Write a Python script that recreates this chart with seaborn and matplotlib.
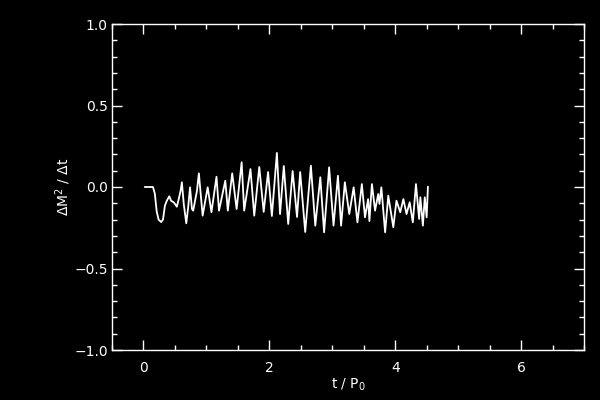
import numpy as np
import pandas as pd
import matplotlib
matplotlib.use("Agg")
import matplotlib.pyplot as plt
import seaborn as sns
from matplotlib.ticker import MultipleLocator, FuncFormatter

# time in units of P0
t = [0.02, 0.15, 0.18, 0.21, 0.24, 0.28, 0.31, 0.34, 0.37, 0.41,
     0.44, 0.48, 0.50, 0.53, 0.56, 0.59, 0.61, 0.64, 0.68, 0.71,
     0.74, 0.77, 0.79, 0.85, 0.88, 0.94, 1.02, 1.08, 1.16, 1.20,
     1.30, 1.34, 1.41, 1.48, 1.56, 1.60, 1.70, 1.76, 1.84, 1.91,
     1.98, 2.04, 2.12, 2.17, 2.23, 2.30, 2.37, 2.44, 2.49, 2.57,
     2.66, 2.73, 2.81, 2.87, 2.95, 3.02, 3.09, 3.14, 3.20, 3.27,
     3.34, 3.40, 3.47, 3.52, 3.57, 3.59, 3.63, 3.68, 3.73, 3.75,
     3.78, 3.84, 3.89, 3.97, 4.02, 4.08, 4.13, 4.18, 4.23, 4.28,
     4.33, 4.38, 4.40, 4.44, 4.47, 4.50, 4.52]

dm2_dt = [0.00, 0.00, -0.04, -0.15, -0.20, -0.215, -0.20, -0.115, -0.085, -0.057,
          -0.085, -0.094, -0.104, -0.121, -0.074, -0.023, 0.029, -0.104, -0.223, -0.125,
          -0.002, -0.135, -0.145, -0.023, 0.084, -0.176, -0.002, -0.155, 0.063, -0.145,
          0.039, -0.145, 0.084, -0.135, 0.152, -0.145, 0.110, -0.176, 0.123, -0.153,
          0.092, -0.178, 0.209, -0.166, 0.129, -0.227, 0.098, -0.184, 0.092, -0.276,
          0.131, -0.237, 0.060, -0.278, 0.121, -0.237, 0.069, -0.237, 0.029, -0.166,
          -0.002, -0.217, 0.018, -0.186, -0.074, -0.209, 0.018, -0.145, -0.043, -0.104,
          -0.002, -0.278, -0.053, -0.247, -0.084, -0.155, -0.074, -0.166, -0.094, -0.217,
          0.018, -0.196, -0.063, -0.237, -0.063, -0.186, 0.002]

df = pd.DataFrame({"t": t, "dm2": dm2_dt})

sns.set_style("ticks", {"axes.facecolor": "black", "figure.facecolor": "black",
                        "axes.edgecolor": "white", "xtick.color": "white",
                        "ytick.color": "white", "text.color": "white",
                        "axes.labelcolor": "white"})
plt.rcParams["font.family"] = ["DejaVu Sans"]

fig = plt.figure(figsize=(6, 4), dpi=100, facecolor="black")
ax = fig.add_axes([0.1867, 0.125, 0.7866, 0.815])
sns.lineplot(data=df, x="t", y="dm2", ax=ax, color="white", lw=1.3, estimator=None)

ax.set_xlim(-0.5, 7)
ax.set_ylim(-1, 1)
ax.xaxis.set_major_locator(MultipleLocator(2))
ax.xaxis.set_minor_locator(MultipleLocator(0.5))
ax.yaxis.set_major_locator(MultipleLocator(0.5))
ax.yaxis.set_minor_locator(MultipleLocator(0.1))
ax.yaxis.set_major_formatter(FuncFormatter(lambda v, p: f"{v:.1f}".replace("-", "\u2212")))
ax.tick_params(which="both", direction="in", top=True, right=True,
               colors="white", labelsize=10, width=1)
ax.tick_params(which="major", length=7)
ax.tick_params(which="minor", length=3.6)
ax.tick_params(axis="x", pad=8)
ax.tick_params(axis="y", pad=3)
for s in ax.spines.values():
    s.set_color("white")
    s.set_linewidth(1)

ax.set_xlabel("t / P$_0$", fontsize=10, color="white", labelpad=1)
ax.set_ylabel("ΔM$^2$ / Δt", fontsize=10, color="white", labelpad=1)

fig.savefig("out.png", dpi=100, facecolor="black")
